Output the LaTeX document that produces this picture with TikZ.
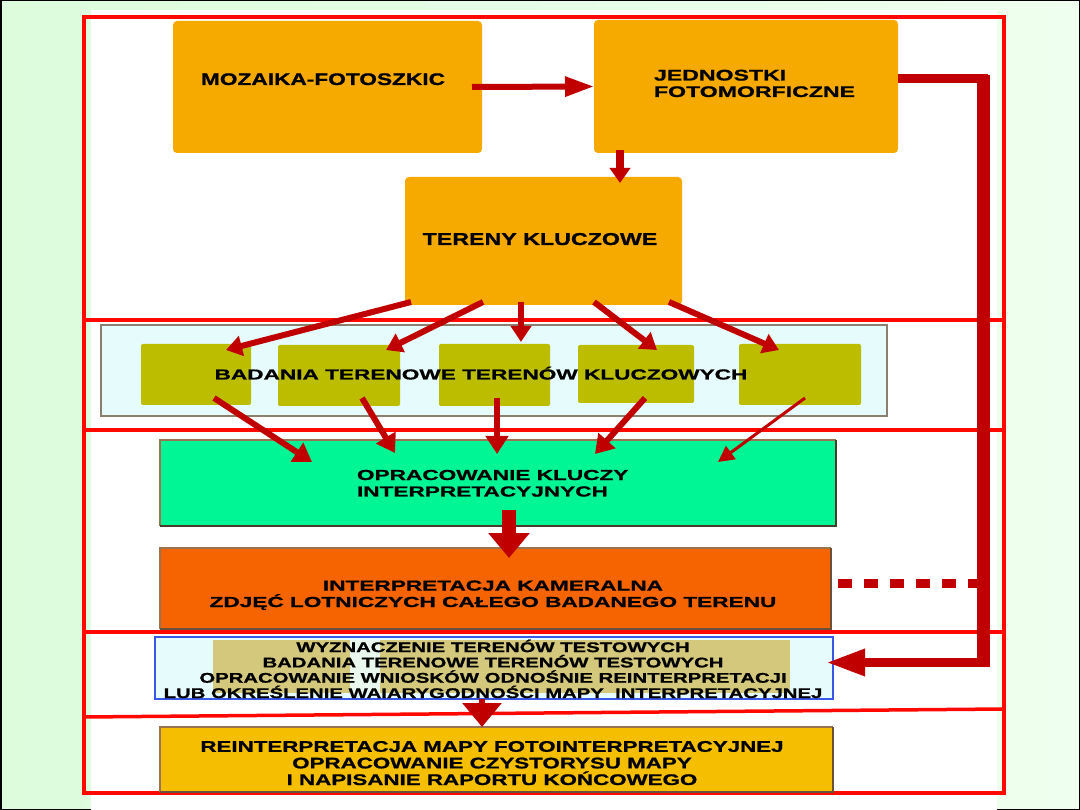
\documentclass[tikz,border=0pt]{standalone}
\usepackage{fontspec}
\usetikzlibrary{arrows.meta,calc}
\newfontfamily\fA{Liberation Sans}[FakeStretch=1.35,BoldFeatures={FakeBold=1}]
\newfontfamily\fB{Liberation Sans}[FakeStretch=1.50,BoldFeatures={FakeBold=1}]
\newfontfamily\fC{Liberation Sans}[FakeStretch=1.56,BoldFeatures={FakeBold=1}]
\newfontfamily\fD{Liberation Sans}[FakeStretch=1.45,BoldFeatures={FakeBold=1}]
\definecolor{bgL}{HTML}{DCFCDC}
\definecolor{bgR}{HTML}{EFFFEF}
\definecolor{frameR}{HTML}{FF0800}
\definecolor{arrR}{HTML}{C00000}
\definecolor{orA}{HTML}{F6AA00}
\definecolor{oliveB}{HTML}{BDBD00}
\definecolor{panelC}{HTML}{E6FBFB}
\definecolor{panelE}{HTML}{8C7F6E}
\definecolor{mint}{HTML}{00F595}
\definecolor{orB}{HTML}{F56400}
\definecolor{blueE}{HTML}{3A58E8}
\definecolor{khakiB}{HTML}{D3C87C}
\definecolor{stripeC}{HTML}{E9F7EE}
\definecolor{goldB}{HTML}{F5BF00}
\definecolor{brownE}{HTML}{9A7450}
\definecolor{shadowE}{HTML}{4A3A2A}
\begin{document}
\begin{tikzpicture}[x=1pt,y=-1pt,
  box/.style={inner sep=0pt, outer sep=0pt, anchor=north west},
  txt/.style={inner sep=0pt, outer sep=0pt, text=black},
  frame/.style={draw=frameR, line width=3.5pt},
  arr/.style={draw=arrR, line width=6pt, -{Triangle[length=16pt,width=20pt]}},
  arrb/.style={draw=arrR, line width=6pt, -{Triangle[length=18pt,width=22pt]}},
  edgeL/.style={draw=brownE, line width=1.5pt},
  edgeS/.style={draw=shadowE, line width=2pt},
]
\useasboundingbox (0,0) rectangle (1080,810);
% background
\fill[left color=bgL, right color=bgR] (0,0) rectangle (1080,810);
\draw[black, line width=1.5pt] (0.75,0.75) rectangle (1079.25,809.25);
\fill[white] (91,10) rectangle (997,810);

% red frame
\draw[frame] (84,17) rectangle (1004,793);
\draw[frame] (84,320) -- (1004,320);
\draw[frame] (84,430) -- (1004,430);
\draw[frame] (84,632) -- (1004,632);
\draw[frame] (84,717) -- (1004,709);

% top boxes
\node[box, fill=orA, rounded corners=4pt, minimum width=309pt, minimum height=132pt] (M) at (173,21) {};
\node[box, fill=orA, rounded corners=4pt, minimum width=304pt, minimum height=133pt] (J) at (594,20) {};
\node[box, fill=orA, rounded corners=4pt, minimum width=277pt, minimum height=128pt] (T) at (405,177) {};
\node[txt, anchor=base, font=\fA\bfseries\fontsize{16.8}{17}\selectfont] (Mt) at (323,85) {MOZAIKA-FOTOSZKIC};
\node[txt, anchor=base west, align=left, font=\fB\bfseries\fontsize{15.4}{16.5}\selectfont] (Jt) at (654,97) {JEDNOSTKI\\FOTOMORFICZNE};
\node[txt, anchor=base, font=\fA\bfseries\fontsize{17.2}{17}\selectfont] (Tt) at (540,245) {TERENY KLUCZOWE};

% panel with olive boxes
\node[box, fill=panelC, draw=panelE, line width=1.5pt, minimum width=786pt, minimum height=91pt] (P) at (101,325) {};
\node[box, fill=oliveB, rounded corners=2pt, minimum width=110pt, minimum height=61pt] (a) at (141,344) {};
\node[box, fill=oliveB, rounded corners=2pt, minimum width=122pt, minimum height=61pt] (b) at (278,345) {};
\node[box, fill=oliveB, rounded corners=2pt, minimum width=111pt, minimum height=62pt] (c) at (439,344) {};
\node[box, fill=oliveB, rounded corners=2pt, minimum width=116pt, minimum height=58pt] (d) at (578,345) {};
\node[box, fill=oliveB, rounded corners=2pt, minimum width=122pt, minimum height=61pt] (e) at (739,344) {};
\node[txt, anchor=base, font=\fC\bfseries\fontsize{14.5}{16}\selectfont] (Pt) at (481,379.5) {BADANIA TERENOWE TERENÓW KLUCZOWYCH};

% green box
\node[box, fill=mint, minimum width=676pt, minimum height=86pt] (G) at (160,440) {};
\draw[edgeL] (G.south west) -- (G.north west) -- (G.north east);
\draw[edgeS] (G.north east) -- (G.south east) -- (G.south west);
\node[txt, anchor=base west, align=left, font=\fC\bfseries\fontsize{14.5}{16.5}\selectfont] (Gt) at (357,496.5) {OPRACOWANIE KLUCZY\\INTERPRETACYJNYCH};

% orange box
\node[box, fill=orB, minimum width=671pt, minimum height=81pt] (O) at (160,548) {};
\draw[edgeL] (O.south west) -- (O.north west) -- (O.north east);
\draw[draw=brownE!70!black, line width=1.5pt] (O.north east) -- (O.south east) -- (O.south west);
\node[txt, anchor=base, align=center, font=\fC\bfseries\fontsize{14.5}{16.4}\selectfont] (Ot) at (493,607) {INTERPRETACJA KAMERALNA\\ZDJĘĆ LOTNICZYCH CAŁEGO BADANEGO TERENU};

% blue box
\node[box, fill=panelC, minimum width=678pt, minimum height=62pt] (B) at (155,637) {};
\node[box, fill=khakiB, minimum width=577pt, minimum height=53pt] (K) at (213,640) {};
\fill[stripeC] (350,640) rectangle (380,693);
\draw[draw=blueE, line width=2pt] (B.south west) rectangle (B.north east);
\node[txt, anchor=base, align=center, font=\fD\bfseries\fontsize{14}{15.3}\selectfont] (Bt) at (493,698) {WYZNACZENIE TERENÓW TESTOWYCH\\BADANIA TERENOWE TERENÓW TESTOWYCH\\OPRACOWANIE WNIOSKÓW ODNOŚNIE REINTERPRETACJI\\LUB OKREŚLENIE WAIARYGODNOŚCI MAPY \ INTERPRETACYJNEJ};

% final box
\node[box, fill=goldB, minimum width=673pt, minimum height=65pt] (F) at (160,727) {};
\draw[edgeL] (F.south west) -- (F.north west) -- (F.north east);
\draw[draw=brownE!70!black, line width=1.5pt] (F.north east) -- (F.south east) -- (F.south west);
\node[txt, anchor=base, align=center, font=\fD\bfseries\fontsize{15.4}{16.6}\selectfont] (Ft) at (492,785) {REINTERPRETACJA MAPY FOTOINTERPRETACYJNEJ\\OPRACOWANIE CZYSTORYSU MAPY\\I NAPISANIE RAPORTU KOŃCOWEGO};

% arrows top
\draw[draw=arrR, line width=6pt, -{Triangle[length=29pt,width=19pt]}] ([xshift=-10pt]M.east) -- (J.west);
\draw[draw=arrR, line width=8pt, -{Triangle[length=15pt,width=20pt]}] ([shift={(26,-3)}]J.south west) -- ([shift={(215,6)}]T.north west);

% T -> olive boxes
\draw[arr] ([shift={(6,-3)}]T.south west) -- ([shift={(85,6)}]a.north west);
\draw[arr] ([shift={(78,-3)}]T.south west) -- ([shift={(108,5)}]b.north west);
\draw[arr] ([shift={(116,-3)}]T.south west) -- ([shift={(82,-2)}]c.north west);
\draw[arr] ([shift={(189,-3)}]T.south west) -- ([shift={(79,5)}]d.north west);
\draw[arr] ([shift={(264,-3)}]T.south west) -- ([shift={(40,6)}]e.north west);

% olive boxes -> G
\draw[arrb] ([shift={(73,-7)}]a.south west) -- ([shift={(152,22)}]G.north west);
\draw[arrb] ([shift={(84,-8)}]b.south west) -- ([shift={(235,13)}]G.north west);
\draw[arrb] ([shift={(58,-8)}]c.south west) -- ([shift={(337,14)}]G.north west);
\draw[arrb] ([shift={(67,-5)}]d.south west) -- ([shift={(435,14)}]G.north west);
\draw[draw=arrR, line width=3pt, -{Triangle[length=16pt,width=16pt]}] ([shift={(66,-7)}]e.south west) -- ([shift={(558,22)}]G.north west);

% G -> O
\draw[draw=arrR, line width=14pt, -{Triangle[length=25pt,width=40pt]}] ([shift={(349,-16)}]G.south west) -- ([shift={(349,10)}]O.north west);

% B -> F
\draw[draw=arrR, line width=6pt, -{Triangle[length=24pt,width=38pt]}] ([xshift=-12pt]B.south) -- ([xshift=-12pt]B.south |- F.north);

% feedback J -> B
\coordinate (fb1) at (983.5,78.5);
\coordinate (fb2) at (983.5,662.5);
\draw[draw=arrR, line width=9pt, line join=miter, shorten >=-7pt, -{Triangle[length=39pt,width=25pt]}]
  ([yshift=8pt]J.east) -- (fb1) -- (fb2) -- (B.east |- fb2);
\draw[draw=arrR, line width=13pt] ([yshift=3.5pt]fb1) -- ([yshift=-4.5pt]fb2);

% dashed O -> feedback line
\coordinate (dsh) at (977,583);
\draw[draw=arrR, line width=9pt, dash pattern=on 14pt off 12pt] ([shift={(7,-5.5)}]O.east) -- (dsh);
\end{tikzpicture}
\end{document}
